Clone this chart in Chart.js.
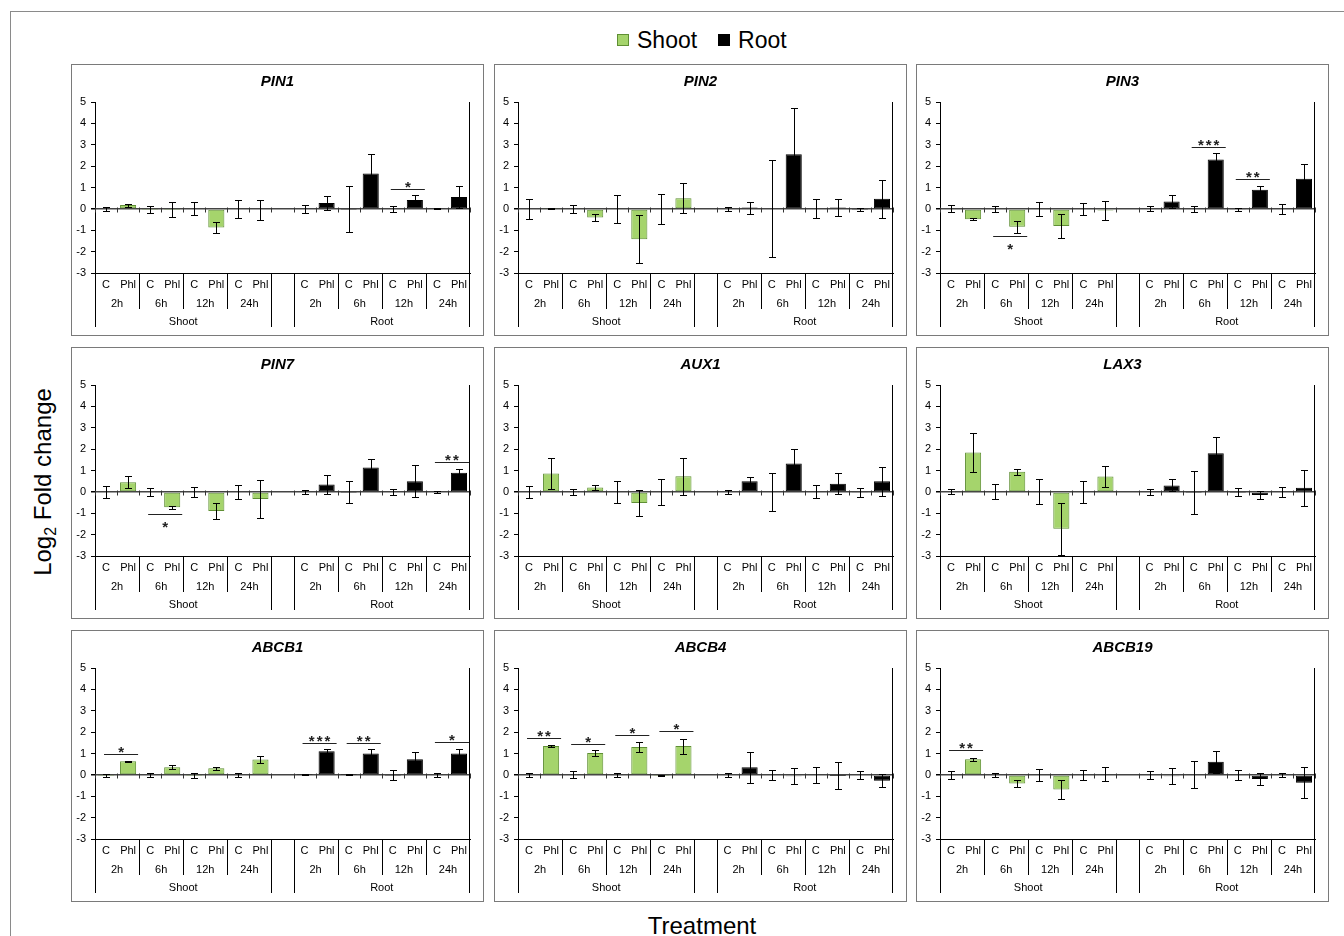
<!DOCTYPE html>
<html>
<head>
<meta charset="utf-8">
<script src="https://cdn.jsdelivr.net/npm/chart.js@4.4.1/dist/chart.umd.min.js"></script>
<style>
  body { margin: 0; width: 1344px; height: 936px; position: relative; overflow: hidden; background: #fff;
         font-family: Arial, "Liberation Sans", sans-serif; color: #000; }
  #frame { position: absolute; left: 10px; top: 11px; width: 1400px; height: 1000px; border: 1px solid #8a8a8a; }
  .panel { position: absolute; width: 411px; height: 270px; border: 1px solid #7a7a7a; background: #fff; }
  .panel canvas { display: block; }
  #legend { position: absolute; left: 617px; top: 26px; display: flex; align-items: center; font-size: 23px; line-height: 28px; }
  #legend .sw { width: 12px; height: 12px; box-sizing: border-box; margin-right: 8px; }
  #legend .item { display: flex; align-items: center; margin-right: 21px; }
  #ytitle { position: absolute; left: 47px; top: 482px; transform: translate(-50%, -50%) rotate(-90deg);
            white-space: nowrap; font-size: 24px; line-height: 28px; }
  #xtitle { position: absolute; left: 702px; top: 912px; transform: translateX(-50%); font-size: 24px; line-height: 28px; }
</style>
</head>
<body>
<div id="frame"></div>
<div id="legend"></div>
<div id="ytitle">Log<sub style="font-size:16px">2</sub> Fold change</div>
<div id="xtitle">Treatment</div>

<script>
// categories
const groups = ["Shoot", "Root"];
const times = ["2h", "6h", "12h", "24h"];
const treatments = ["C", "Phl"];

// log2 fold change, order: C 2h, Phl 2h, C 6h, Phl 6h, C 12h, Phl 12h, C 24h, Phl 24h
const PIN1_shoot = [0, 0.18, -0.02, -0.02, 0, -0.87, 0, -0.04];
const PIN1_shootErr = [0.1, 0.07, 0.15, 0.35, 0.3, 0.25, 0.42, 0.46];
const PIN1_root = [0, 0.27, -0.02, 1.66, 0, 0.42, 0.02, 0.55];
const PIN1_rootErr = [0.17, 0.32, 1.07, 0.9, 0.13, 0.24, 0.03, 0.5];

const PIN2_shoot = [0, 0.02, 0, -0.4, 0, -1.42, 0, 0.5];
const PIN2_shootErr = [0.47, 0.01, 0.19, 0.18, 0.65, 1.13, 0.71, 0.7];
const PIN2_root = [0, 0.06, 0, 2.56, 0, 0.06, -0.02, 0.47];
const PIN2_rootErr = [0.1, 0.28, 2.27, 2.14, 0.45, 0.39, 0.08, 0.89];

const PIN3_shoot = [0, -0.48, 0, -0.84, 0, -0.8, 0, -0.08];
const PIN3_shootErr = [0.16, 0.03, 0.15, 0.28, 0.32, 0.57, 0.27, 0.46];
const PIN3_root = [0, 0.34, 0, 2.31, -0.03, 0.89, 0, 1.41];
const PIN3_rootErr = [0.12, 0.31, 0.15, 0.31, 0.06, 0.2, 0.22, 0.68];

const PIN7_shoot = [0, 0.45, 0, -0.72, 0, -0.9, 0, -0.33];
const PIN7_shootErr = [0.28, 0.27, 0.18, 0.07, 0.23, 0.36, 0.33, 0.87];
const PIN7_root = [0, 0.34, -0.02, 1.14, 0, 0.5, 0, 0.89];
const PIN7_rootErr = [0.1, 0.43, 0.51, 0.39, 0.15, 0.75, 0.06, 0.2];

const AUX1_shoot = [0, 0.86, 0, 0.2, 0, -0.52, 0, 0.73];
const AUX1_shootErr = [0.27, 0.72, 0.13, 0.12, 0.53, 0.61, 0.62, 0.86];
const AUX1_root = [0, 0.5, 0, 1.33, 0, 0.38, -0.03, 0.5];
const AUX1_rootErr = [0.1, 0.2, 0.9, 0.67, 0.3, 0.48, 0.22, 0.68];

const LAX3_shoot = [0, 1.84, 0, 0.94, 0, -1.72, 0, 0.72];
const LAX3_shootErr = [0.12, 0.9, 0.35, 0.15, 0.59, 1.22, 0.5, 0.5];
const LAX3_root = [0, 0.3, -0.02, 1.81, -0.02, -0.15, 0, 0.19];
const LAX3_rootErr = [0.15, 0.28, 1.02, 0.75, 0.18, 0.19, 0.24, 0.84];

const ABCB1_shoot = [-0.02, 0.64, 0, 0.36, -0.02, 0.31, 0, 0.72];
const ABCB1_shootErr = [0.06, 0.02, 0.1, 0.1, 0.13, 0.08, 0.1, 0.17];
const ABCB1_root = [0.01, 1.11, 0.01, 1.0, -0.02, 0.73, 0, 1.0];
const ABCB1_rootErr = [0.01, 0.1, 0.03, 0.22, 0.23, 0.32, 0.1, 0.22];

const ABCB4_shoot = [0, 1.35, 0, 1.02, 0, 1.3, -0.02, 1.35];
const ABCB4_shootErr = [0.1, 0.05, 0.16, 0.15, 0.1, 0.25, 0.01, 0.35];
const ABCB4_root = [0, 0.36, 0, -0.06, 0, -0.01, 0, -0.27];
const ABCB4_rootErr = [0.1, 0.73, 0.23, 0.39, 0.36, 0.63, 0.2, 0.3];

const ABCB19_shoot = [0, 0.73, 0, -0.4, 0, -0.68, 0, 0.03];
const ABCB19_shootErr = [0.2, 0.07, 0.1, 0.18, 0.29, 0.44, 0.24, 0.32];
const ABCB19_root = [0, -0.06, 0, 0.61, 0, -0.19, 0, -0.37];
const ABCB19_rootErr = [0.18, 0.37, 0.63, 0.5, 0.23, 0.28, 0.1, 0.72];

// significance marks: [slot of the C bar, level of the bar line, stars, above/below]
const PIN1_sig = [[13, 0.95, "*", "up"]];
const PIN3_sig = [[2, -1.28, "*", "down"], [11, 2.9, "***", "up"], [13, 1.38, "**", "up"]];
const PIN7_sig = [[2, -1.03, "*", "down"], [15, 1.42, "**", "up"]];
const ABCB1_sig = [[0, 0.97, "*", "up"], [9, 1.5, "***", "up"], [11, 1.5, "**", "up"], [15, 1.53, "*", "up"]];
const ABCB4_sig = [[0, 1.72, "**", "up"], [2, 1.43, "*", "up"], [4, 1.86, "*", "up"], [6, 2.06, "*", "up"]];
const ABCB19_sig = [[0, 1.16, "**", "up"]];

const yTicks = { min: -3, max: 5, step: 1 };

const panels = [
  ["PIN1", PIN1_shoot, PIN1_shootErr, PIN1_root, PIN1_rootErr, PIN1_sig],
  ["PIN2", PIN2_shoot, PIN2_shootErr, PIN2_root, PIN2_rootErr, []],
  ["PIN3", PIN3_shoot, PIN3_shootErr, PIN3_root, PIN3_rootErr, PIN3_sig],
  ["PIN7", PIN7_shoot, PIN7_shootErr, PIN7_root, PIN7_rootErr, PIN7_sig],
  ["AUX1", AUX1_shoot, AUX1_shootErr, AUX1_root, AUX1_rootErr, []],
  ["LAX3", LAX3_shoot, LAX3_shootErr, LAX3_root, LAX3_rootErr, []],
  ["ABCB1", ABCB1_shoot, ABCB1_shootErr, ABCB1_root, ABCB1_rootErr, ABCB1_sig],
  ["ABCB4", ABCB4_shoot, ABCB4_shootErr, ABCB4_root, ABCB4_rootErr, ABCB4_sig],
  ["ABCB19", ABCB19_shoot, ABCB19_shootErr, ABCB19_root, ABCB19_rootErr, ABCB19_sig],
];

const SHOOT_FILL = "#a5d46c";
const SHOOT_EDGE = "#5f8f34";
const ROOT_FILL = "#000000";
const FONT = "Arial, 'Liberation Sans', sans-serif";

// C/Phl per time point, one empty slot between the two tissues
const slotLabels = [];
groups.forEach((g, gi) => {
  if (gi > 0) slotLabels.push("");
  times.forEach(() => treatments.forEach(t => slotLabels.push(t)));
});
const perGroup = times.length * treatments.length;
const groupStart = groups.map((g, gi) => gi * (perGroup + 1));

function fullRow(values, start) {
  const row = new Array(slotLabels.length).fill(null);
  values.forEach((v, i) => { row[start + i] = v; });
  return row;
}

// legend
const legend = document.getElementById("legend");
[[groups[0], SHOOT_FILL, SHOOT_EDGE], [groups[1], ROOT_FILL, ROOT_FILL]].forEach(([name, fill, edge]) => {
  const item = document.createElement("div");
  item.className = "item";
  item.innerHTML = '<div class="sw" style="background:' + fill + ';border:1px solid ' + edge + '"></div>' + name;
  legend.appendChild(item);
});

function panelExtras(sig) {
  return {
    id: "panelExtras",
    afterDatasetsDraw(chart) {
      const {ctx, scales: {x, y}} = chart;
      const slotW = (x.right - x.left) / slotLabels.length;
      const y0 = Math.round(y.getPixelForValue(0)) + 0.5;
      ctx.save();
      ctx.lineWidth = 1;

      // small marks on the zero axis
      ctx.strokeStyle = "#333";
      for (let i = 0; i <= slotLabels.length; i++) {
        const px = Math.round(x.left + i * slotW) + 0.5;
        ctx.beginPath();
        ctx.moveTo(px, y0 - 2);
        ctx.lineTo(px, y0 + 3);
        ctx.stroke();
      }

      // error bars
      ctx.strokeStyle = "#000";
      chart.data.datasets.forEach((ds, di) => {
        const meta = chart.getDatasetMeta(di);
        ds.data.forEach((v, i) => {
          if (v === null) return;
          const e = ds.errors[i];
          const px = Math.round(meta.data[i].x) + 0.5;
          const top = Math.round(y.getPixelForValue(v + e)) + 0.5;
          const bot = Math.round(y.getPixelForValue(v - e)) + 0.5;
          ctx.beginPath();
          ctx.moveTo(px, top); ctx.lineTo(px, bot);
          ctx.moveTo(px - 3.5, top); ctx.lineTo(px + 3.5, top);
          ctx.moveTo(px - 3.5, bot); ctx.lineTo(px + 3.5, bot);
          ctx.stroke();
        });
      });

      // significance bars and stars
      ctx.strokeStyle = "#222";
      ctx.fillStyle = "#222";
      ctx.font = "bold 15px " + FONT;
      ctx.textAlign = "center";
      ctx.textBaseline = "alphabetic";
      ctx.letterSpacing = "2px";
      sig.forEach(([slot, level, stars, side]) => {
        const x1 = x.getPixelForValue(slot) - 2;
        const x2 = x.getPixelForValue(slot + 1) + 10;
        const py = Math.round(y.getPixelForValue(level)) + 0.5;
        ctx.beginPath();
        ctx.moveTo(x1, py); ctx.lineTo(x2, py);
        ctx.stroke();
        ctx.fillText(stars, (x1 + x2) / 2 + 1, side === "up" ? py + 2 : py + 17);
      });
      ctx.restore();
    },
    afterDraw(chart) {
      const {ctx, chartArea: area, scales: {x}} = chart;
      const slotW = (x.right - x.left) / slotLabels.length;
      const base = area.bottom;
      ctx.save();
      ctx.strokeStyle = "#000";
      ctx.lineWidth = 1;
      const vline = (px, y1, y2) => {
        px = Math.round(px) + 0.5;
        ctx.beginPath(); ctx.moveTo(px, y1); ctx.lineTo(px, y2); ctx.stroke();
      };
      vline(area.right - 1, area.top, base + 54);

      ctx.fillStyle = "#000";
      ctx.font = "11px " + FONT;
      ctx.textAlign = "center";
      ctx.textBaseline = "middle";
      groups.forEach((g, gi) => {
        const s = groupStart[gi];
        const left = x.left + s * slotW;
        const right = x.left + (s + perGroup) * slotW;
        vline(left, base, base + 54);
        vline(right - (gi === groups.length - 1 ? 1 : 0), base, base + 54);
        times.forEach((t, ti) => {
          const a = left + ti * treatments.length * slotW;
          if (ti > 0) vline(a, base, base + 36);
          ctx.fillText(t, a + slotW * treatments.length / 2, base + 31);
        });
        ctx.fillText(g, (left + right) / 2, base + 49);
      });
      ctx.restore();
    }
  };
}

const lefts = [71, 494, 916];
const tops = [64, 347, 630];

panels.forEach(([gene, shoot, shootErr, root, rootErr, sig], pi) => {
  const box = document.createElement("div");
  box.className = "panel";
  box.style.left = lefts[pi % 3] + "px";
  box.style.top = tops[Math.floor(pi / 3)] + "px";
  const canvas = document.createElement("canvas");
  canvas.width = 411;
  canvas.height = 270;
  box.appendChild(canvas);
  document.body.appendChild(box);

  new Chart(canvas, {
    type: "bar",
    data: {
      labels: slotLabels,
      datasets: [
        {
          label: groups[0],
          data: fullRow(shoot, groupStart[0]),
          errors: fullRow(shootErr, groupStart[0]),
          backgroundColor: SHOOT_FILL,
          borderColor: SHOOT_EDGE,
        },
        {
          label: groups[1],
          data: fullRow(root, groupStart[1]),
          errors: fullRow(rootErr, groupStart[1]),
          backgroundColor: ROOT_FILL,
          borderColor: ROOT_FILL,
        },
      ],
    },
    options: {
      responsive: false,
      animation: false,
      devicePixelRatio: 1,
      layout: { padding: 0 },
      datasets: {
        bar: {
          grouped: false,
          barPercentage: 0.73,
          categoryPercentage: 1,
          borderWidth: 1,
          borderSkipped: false,
        },
      },
      plugins: {
        legend: { display: false },
        tooltip: { enabled: false },
        title: {
          display: true,
          text: gene,
          color: "#000",
          font: { family: FONT, size: 15, weight: "bold", style: "italic" },
          padding: { top: 8, bottom: 11 },
        },
      },
      scales: {
        x: {
          afterFit: (scale) => { scale.height = 62; },
          grid: { display: false, drawTicks: false },
          border: { display: true, color: "#000", width: 1 },
          ticks: {
            autoSkip: false,
            maxRotation: 0,
            padding: 5,
            color: "#000",
            font: { family: FONT, size: 11 },
          },
        },
        y: {
          min: yTicks.min,
          max: yTicks.max,
          afterFit: (scale) => { scale.width = 23; },
          border: { display: true, color: "#000", width: 1 },
          grid: {
            drawOnChartArea: true,
            drawTicks: true,
            tickLength: 4,
            tickColor: "#000",
            color: (c) => (c.tick && c.tick.value === 0 ? "#444" : "rgba(0,0,0,0)"),
            lineWidth: (c) => (c.tick && c.tick.value === 0 ? 1.5 : 1),
          },
          ticks: {
            stepSize: yTicks.step,
            padding: 5,
            color: "#000",
            font: { family: FONT, size: 11 },
          },
        },
        // empty right-hand margin so the title stays centred on the whole panel
        yRight: {
          position: "right",
          min: yTicks.min,
          max: yTicks.max,
          afterFit: (scale) => { scale.width = 13; },
          grid: { display: false, drawTicks: false },
          border: { display: false },
          ticks: { display: false },
        },
      },
    },
    plugins: [panelExtras(sig)],
  });
});
</script>
</body>
</html>
